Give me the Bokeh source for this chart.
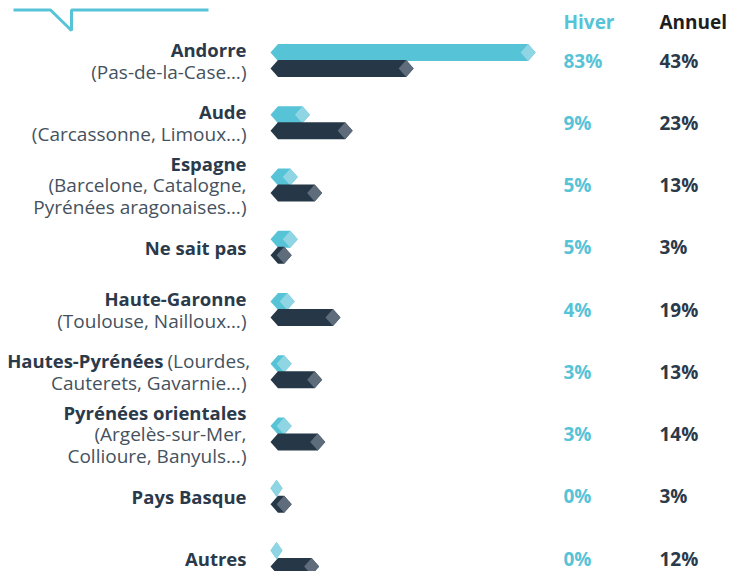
from bokeh.plotting import figure
from bokeh.models import Range1d, ColumnDataSource
from bokeh.core.properties import value
from bokeh.embed import file_html
from bokeh.resources import INLINE

# ---------------- data ----------------
categories = ["Andorre", "Aude", "Espagne", "Ne sait pas", "Haute-Garonne",
              "Hautes-Pyrénées", "Pyrénées orientales", "Pays Basque", "Autres"]
details = [["(Pas-de-la-Case…)"],
           ["(Carcassonne, Limoux…)"],
           ["(Barcelone, Catalogne,", "Pyrénées aragonaises…)"],
           [],
           ["(Toulouse, Nailloux…)"],
           ["(Lourdes,", "Cauterets, Gavarnie…)"],
           ["(Argelès-sur-Mer,", "Collioure, Banyuls…)"],
           [],
           []]
inline_first_detail = [False, False, False, False, False, True, False, False, False]
hiver = [83, 9, 5, 5, 4, 3, 3, 0, 0]
annuel = [43, 23, 13, 3, 19, 13, 14, 3, 12]
series_names = ["Hiver", "Annuel"]

# ---------------- styles ----------------
FONT = "Open Sans"
CYAN = "#57C3D7"
CYAN_LIGHT = "#8FD5E3"
DARK = "#263847"
DARK_LIGHT = "#5F6C7B"
LABEL = "#2B3A4A"
SUB = "#45525E"

W, H = 732, 571
PAGE_OFF = 0
X0_PX = 270.0      # page x where bars start
PX_PER_UNIT = 3.05 # pixels per percent
ROW0_PX = 60.0     # page y of first row centre
ROW_STEP = 62.25   # px between rows


def xd(px):
    return (px - X0_PX) / PX_PER_UNIT


def yd(py):
    return (py - ROW0_PX) / ROW_STEP


def ypx(dpx):
    return dpx / ROW_STEP


p = figure(width=W, height=H, output_backend="svg", toolbar_location=None,
           x_range=Range1d(xd(PAGE_OFF), xd(PAGE_OFF + W)),
           y_range=Range1d(yd(PAGE_OFF + H), yd(PAGE_OFF)),
           min_border=0)
p.axis.visible = False
p.grid.visible = False
p.outline_line_color = None
p.background_fill_color = "white"
p.border_fill_color = "white"

CAP = 12.0 / PX_PER_UNIT
D = 7.5 / PX_PER_UNIT
HH = ypx(8.5)
OFF = ypx(8)


def bar_shapes(vals, sign):
    bxs, bys, dxs, dys = [], [], [], []
    for i, v in enumerate(vals):
        yc = i + sign * OFF
        L = v + CAP
        d = min(D, L / 2)
        top, bot = yc - HH, yc + HH
        bxs.append([0, d, L - d, L, L - d, d])
        bys.append([yc, top, top, yc, bot, bot])
        dxs.append([L - 2 * d, L - d, L, L - d])
        dys.append([yc, top, yc, bot])
    return bxs, bys, dxs, dys


for vals, sign, col, col_l in [(hiver, -1, CYAN, CYAN_LIGHT), (annuel, 1, DARK, DARK_LIGHT)]:
    bxs, bys, dxs, dys = bar_shapes(vals, sign)
    p.patches(bxs, bys, fill_color=col, line_color=None)
    p.patches(dxs, dys, fill_color=col_l, line_color=None)

# percentage columns
rows = list(range(len(categories)))
PCT_SIZE = "19px"
p.text(x=[xd(563)] * len(rows), y=rows, text=[f"{v}%" for v in hiver],
       text_font=value(FONT), text_font_size=PCT_SIZE, text_font_style="bold",
       text_color=CYAN, text_align="left", text_baseline="middle")
p.text(x=[xd(659)] * len(rows), y=rows, text=[f"{v}%" for v in annuel],
       text_font=value(FONT), text_font_size=PCT_SIZE, text_font_style="bold",
       text_color=LABEL, text_align="left", text_baseline="middle")

# headers
p.text(x=[xd(563)], y=[yd(21)], text=[series_names[0]],
       text_font=value(FONT), text_font_size=PCT_SIZE, text_font_style="bold",
       text_color=CYAN, text_align="left", text_baseline="middle")
p.text(x=[xd(659)], y=[yd(21)], text=[series_names[1]],
       text_font=value(FONT), text_font_size=PCT_SIZE, text_font_style="bold",
       text_color="#1E1E1E", text_align="left", text_baseline="middle")

# category labels
LINE = 22.0
RIGHT = xd(246)
bx, by, ba = [], [], []
sx, sy, sa, st = [], [], [], []
bt = []
for i, cat in enumerate(categories):
    det = details[i]
    if inline_first_detail[i]:
        n = len(det)
        ys = [i + ypx((k - (n - 1) / 2) * LINE) for k in range(n)]
        bx.append(xd(163)); by.append(ys[0]); bt.append(cat); ba.append("right")
        sx.append(xd(167)); sy.append(ys[0]); st.append(det[0]); sa.append("left")
        for k in range(1, n):
            sx.append(RIGHT); sy.append(ys[k]); st.append(det[k]); sa.append("right")
    else:
        n = 1 + len(det)
        ys = [i + ypx((k - (n - 1) / 2) * LINE) for k in range(n)]
        bx.append(RIGHT); by.append(ys[0]); bt.append(cat); ba.append("right")
        for k in range(1, n):
            sx.append(RIGHT); sy.append(ys[k]); st.append(det[k - 1]); sa.append("right")

p.text(source=ColumnDataSource(dict(x=bx, y=by, t=bt, a=ba)), x="x", y="y", text="t",
       text_align="a", text_font=value(FONT), text_font_size="18.5px",
       text_font_style="bold", text_color=LABEL, text_baseline="middle")
p.text(source=ColumnDataSource(dict(x=sx, y=sy, t=st, a=sa)), x="x", y="y", text="t",
       text_align="a", text_font=value(FONT), text_font_size="19px",
       text_color=SUB, text_baseline="middle")

# decorative header line with notch
p.line(x=[xd(13), xd(50), xd(71), xd(71), xd(208)],
       y=[yd(9.5), yd(9.5), yd(30), yd(9.5), yd(9.5)],
       line_color=CYAN, line_width=3)

open("out.html", "w").write(file_html(p, INLINE))
